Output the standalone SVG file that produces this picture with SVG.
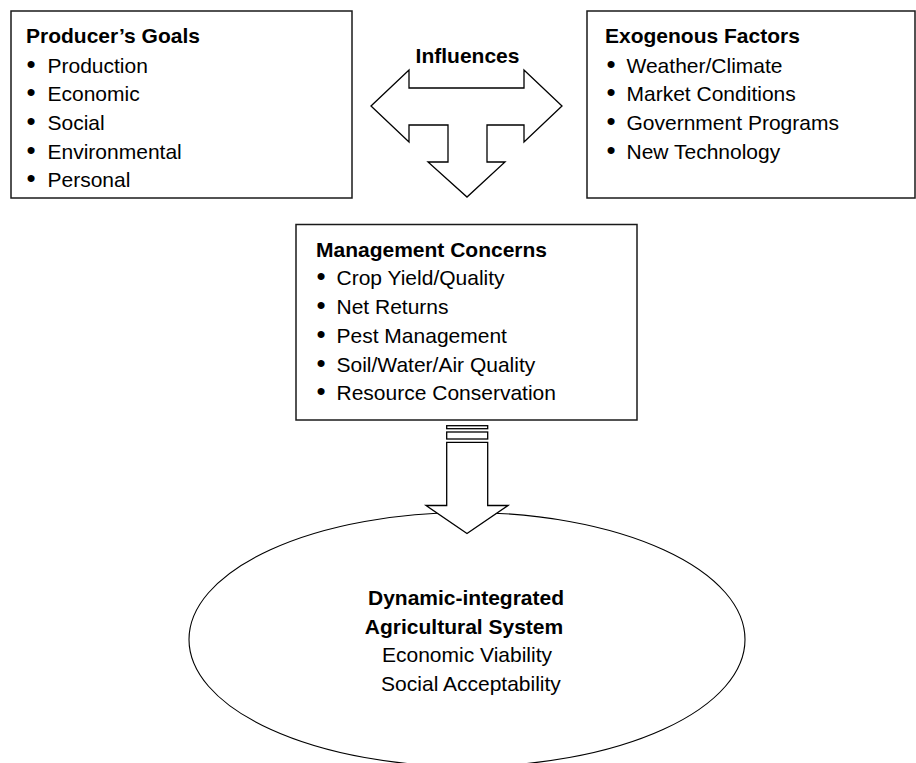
<svg xmlns="http://www.w3.org/2000/svg" width="916" height="763" viewBox="0 0 916 763">
<style>
.box{fill:#fff;stroke:#1a1a1a;stroke-width:1.5}
.arr{fill:#fff;stroke:#000;stroke-width:1.3;stroke-linejoin:miter}
.t{font-family:"Liberation Sans",Arial,Helvetica,sans-serif;font-size:21px;fill:#000}
.d{font-family:"Liberation Sans",Arial,Helvetica,sans-serif;font-size:26px;fill:#000}
.b{font-weight:bold}
.m{text-anchor:middle}
</style>
<rect width="916" height="763" fill="#fff"/>
<g id="producers-goals">
<rect class="box" x="11" y="11" width="341" height="187"/>
<text class="t b" x="26" y="43">Producer’s Goals</text>
<text class="d" x="26.5" y="73">•</text><text class="t" x="47.5" y="73">Production</text>
<text class="d" x="26.5" y="101">•</text><text class="t" x="47.5" y="101">Economic</text>
<text class="d" x="26.5" y="130">•</text><text class="t" x="47.5" y="130">Social</text>
<text class="d" x="26.5" y="158.5">•</text><text class="t" x="47.5" y="158.5">Environmental</text>
<text class="d" x="26.5" y="187">•</text><text class="t" x="47.5" y="187">Personal</text>
</g>
<g id="exogenous-factors">
<rect class="box" x="587" y="11" width="328" height="187"/>
<text class="t b" x="605" y="43">Exogenous Factors</text>
<text class="d" x="606.5" y="73">•</text><text class="t" x="626.5" y="73">Weather/Climate</text>
<text class="d" x="606.5" y="101">•</text><text class="t" x="626.5" y="101">Market Conditions</text>
<text class="d" x="606.5" y="130">•</text><text class="t" x="626.5" y="130">Government Programs</text>
<text class="d" x="606.5" y="158.5">•</text><text class="t" x="626.5" y="158.5">New Technology</text>
</g>
<g id="management-concerns">
<rect class="box" x="296" y="224.5" width="341" height="195.5"/>
<text class="t b" x="316" y="257">Management Concerns</text>
<text class="d" x="316.5" y="285">•</text><text class="t" x="336.5" y="285">Crop Yield/Quality</text>
<text class="d" x="316.5" y="314">•</text><text class="t" x="336.5" y="314">Net Returns</text>
<text class="d" x="316.5" y="343">•</text><text class="t" x="336.5" y="343">Pest Management</text>
<text class="d" x="316.5" y="371.5">•</text><text class="t" x="336.5" y="371.5">Soil/Water/Air Quality</text>
<text class="d" x="316.5" y="400">•</text><text class="t" x="336.5" y="400">Resource Conservation</text>
</g>
<g id="agricultural-system">
<ellipse cx="467" cy="639.5" rx="278" ry="127" fill="#fff" stroke="#000" stroke-width="1.1"/>
<text class="t b m" x="466" y="605">Dynamic-integrated</text>
<text class="t b m" x="464" y="633.5">Agricultural System</text>
<text class="t m" x="467" y="662">Economic Viability</text>
<text class="t m" x="471" y="690.5">Social Acceptability</text>
</g>
<g id="connectors">
<g id="influences">
<polygon class="arr" points="371,106 409,70 409,88 524,88 524,70 562,106 524,142 524,125 487,125 487,162 505,162 467,197 428,162 448,162 448,125 409,125 409,142"/>
<text class="t b m" x="467.5" y="63">Influences</text>
</g>
<g id="to-system">
<rect class="arr" x="446.7" y="425.7" width="41" height="3"/>
<rect class="arr" x="446.7" y="432" width="41" height="7"/>
<polygon class="arr" points="446.7,442.3 446.7,505.5 426,505.5 467,533.5 508,505.5 487.7,505.5 487.7,442.3"/>
</g>
</g>
</svg>
